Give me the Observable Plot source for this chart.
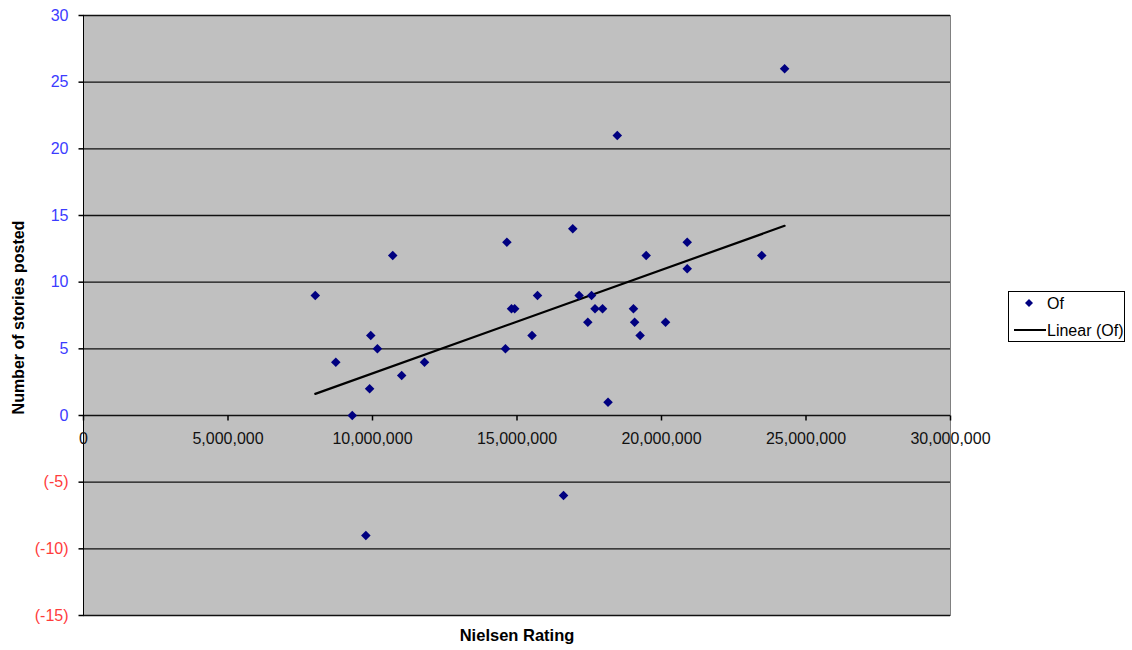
<!DOCTYPE html>
<html>
<head>
<meta charset="utf-8">
<script src="https://cdn.jsdelivr.net/npm/d3@7"></script>
<script src="https://cdn.jsdelivr.net/npm/@observablehq/plot@0.6"></script>
<style>
  html, body { margin: 0; padding: 0; background: #fff; }
  #wrap { position: relative; width: 1132px; height: 650px; font-family: "Liberation Sans", Arial, sans-serif; }
  #legend { position: absolute; left: 1008px; top: 291px; }
</style>
</head>
<body>
<div id="wrap"></div>
<script>
// Nielsen rating (viewers) for each show
const nielsen = [
  8020000, 8730000, 9300000, 9770000, 9900000, 9940000, 10170000, 10700000, 11010000, 11800000,
  14600000, 14650000, 14810000, 14920000, 15520000, 15710000, 16610000, 16930000, 17150000, 17450000,
  17580000, 17700000, 17960000, 18150000, 18470000, 19030000, 19070000, 19260000, 19470000, 20140000,
  20890000, 20890000, 23470000, 24260000
];
// Number of stories posted ("Of" series)
const stories = [
  9, 4, 0, -9, 2, 6, 5, 12, 3, 4,
  5, 13, 8, 8, 6, 9, -6, 14, 9, 7,
  9, 8, 8, 1, 21, 8, 7, 6, 12, 7,
  13, 11, 12, 26
];
const xTicks = [0, 5000000, 10000000, 15000000, 20000000, 25000000, 30000000];
const yTicks = [-15, -10, -5, 0, 5, 10, 15, 20, 25, 30];
const seriesName = "Of";
const trendName = "Linear (Of)";
const xTitle = "Nielsen Rating";
const yTitle = "Number of stories posted";

const data = nielsen.map((x, i) => ({x, y: stories[i]}));
const fmtX = d3.format(",");
const fmtY = d => d < 0 ? `(${d})` : `${d}`;
const fontFam = "'Liberation Sans', Arial, sans-serif";

const tickDown = {draw(ctx) { ctx.moveTo(0, 0); ctx.lineTo(0, 5); }};
const tickLeft = {draw(ctx) { ctx.moveTo(0, 0); ctx.lineTo(-5, 0); }};

const chart = Plot.plot({
  width: 1132,
  height: 650,
  marginLeft: 83,
  marginRight: 182,
  marginTop: 15,
  marginBottom: 35,
  style: {fontFamily: fontFam, fontSize: "16px", background: "transparent", overflow: "visible"},
  x: {domain: [0, 30000000], axis: null},
  y: {domain: [-15, 30], axis: null},
  marks: [
    Plot.frame({fill: "#c0c0c0", stroke: "#808080"}),
    Plot.gridY(yTicks, {stroke: "#111", strokeOpacity: 1, strokeWidth: 1.3}),
    Plot.ruleX([0], {stroke: "#000"}),
    Plot.dot(yTicks, {x: 0, y: d => d, symbol: tickLeft, fill: "none", stroke: "#000"}),
    Plot.dot(xTicks, {x: d => d, y: 0, symbol: tickDown, fill: "none", stroke: "#000"}),
    Plot.text(yTicks, {x: 0, y: d => d, dx: -15, text: fmtY, textAnchor: "end",
      fill: d => d < 0 ? "#ff3c3c" : "#3c3cff", fontSize: 16}),
    Plot.text(xTicks, {x: d => d, y: 0, dy: 23, text: fmtX, fill: "#111", fontSize: 16}),
    Plot.linearRegressionY(data, {x: "x", y: "y", ci: 0, stroke: "#000", strokeWidth: 2.2}),
    Plot.dot(data, {x: "x", y: "y", symbol: "diamond2", r: 4.3, fill: "#000080", stroke: "none"}),
    Plot.text([xTitle], {frameAnchor: "bottom", dy: 25, text: d => d, textAnchor: "middle", fontWeight: "bold", fontSize: 16.5, fill: "#000"}),
    Plot.text([yTitle], {frameAnchor: "left", dx: -65, dy: 2, rotate: -90, textAnchor: "middle", text: d => d, fontWeight: "bold", fontSize: 16, fill: "#000"})
  ]
});
const wrap = document.getElementById("wrap");
wrap.appendChild(chart);

const legend = document.createElement("div");
legend.id = "legend";
legend.innerHTML = `<svg width="117" height="51" style="font-family:${fontFam};font-size:16px">
  <rect x="0.5" y="0.5" width="116" height="50" fill="#fff" stroke="#000"/>
  <path d="M21,8 L25,12 L21,16 L17,12 Z" fill="#000080"/>
  <text x="39" y="18" fill="#000">${seriesName}</text>
  <line x1="6" x2="38" y1="39" y2="39" stroke="#000" stroke-width="2"/>
  <text x="39" y="45" fill="#000">${trendName}</text>
</svg>`;
wrap.appendChild(legend);
</script>
</body>
</html>
